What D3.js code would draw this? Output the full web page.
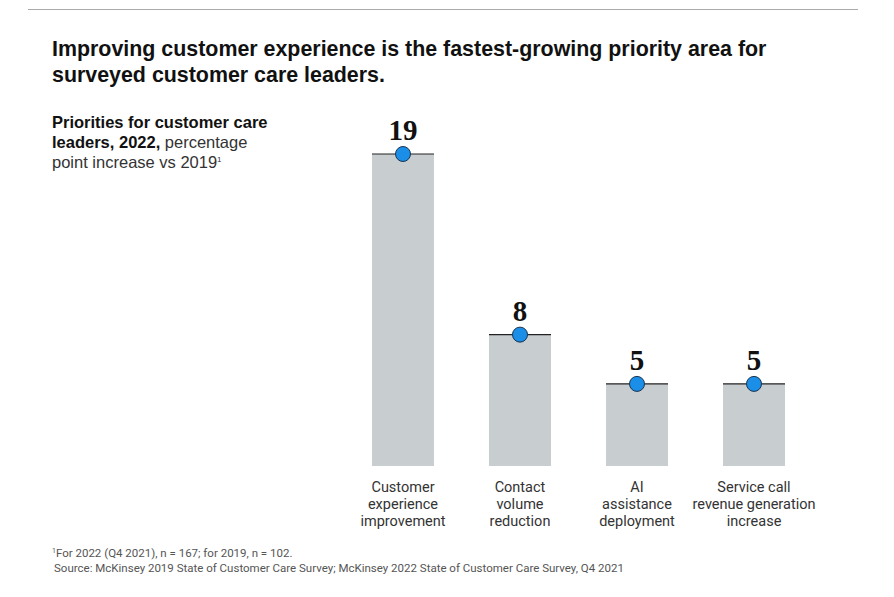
<!DOCTYPE html>
<html><head><meta charset="utf-8">
<script src="https://cdn.jsdelivr.net/npm/d3@7"></script>
<style>body{margin:0;background:#fff}</style>
</head><body>
<script>
const categories = [["Customer","experience","improvement"],["Contact","volume","reduction"],["AI","assistance","deployment"],["Service call","revenue generation","increase"]];
const values = [19, 8, 5, 5];
const ids = ["cx","cv","ai","sc"];

const W = 894, H = 597;
const svg = d3.select("body").append("svg").attr("width", W).attr("height", H);
const sans = "Roboto, 'Liberation Sans', Arial, sans-serif";

svg.append("line").attr("x1", 28).attr("x2", 858).attr("y1", 9.5).attr("y2", 9.5).attr("stroke", "#aaa").attr("stroke-width", 1);

const title = svg.append("text").attr("font-family", "'Liberation Sans', Arial, sans-serif")
  .attr("font-weight", "bold").attr("font-size", 21.4).attr("fill", "#111");
title.append("tspan").attr("x", 52).attr("y", 56).text("Improving customer experience is the fastest-growing priority area for");
title.append("tspan").attr("x", 52).attr("y", 82).text("surveyed customer care leaders.");

const sub = svg.append("text").attr("font-family", "'Liberation Sans', Arial, sans-serif").attr("font-size", 16.5).attr("fill", "#111");
sub.append("tspan").attr("x", 52).attr("y", 128).attr("font-weight", "bold").text("Priorities for customer care");
const l2 = sub.append("tspan").attr("x", 52).attr("y", 148);
l2.append("tspan").attr("font-weight", "bold").text("leaders, 2022,");
l2.append("tspan").attr("fill", "#333").text(" percentage");
sub.append("tspan").attr("x", 52).attr("y", 168).attr("fill", "#333").text("point increase vs 2019");
sub.append("tspan").attr("font-size", 8).attr("dy", -6).attr("fill", "#333").text("1");

const x = d3.scaleBand().domain(ids).range([344.5, 812.5]).paddingInner(0.47).paddingOuter(0.235);
const y = d3.scaleLinear().domain([0, 19]).range([466, 154]);

const g = svg.append("g");
ids.forEach((id, i) => {
  const x0 = x(id), bw = x.bandwidth(), cx = x0 + bw / 2;
  g.append("rect").attr("x", x0).attr("y", y(values[i])).attr("width", bw).attr("height", y(0) - y(values[i])).attr("fill", "#c8cdd0");
  g.append("line").attr("x1", x0).attr("x2", x0 + bw).attr("y1", y(values[i])).attr("y2", y(values[i])).attr("stroke", "#222").attr("stroke-width", 1.2);
  g.append("circle").attr("cx", cx).attr("cy", y(values[i])).attr("r", 7.5).attr("fill", "#1b8ee8").attr("stroke", "#1a3550").attr("stroke-width", 1);
  g.append("text").attr("x", cx).attr("y", y(values[i]) - 14).attr("text-anchor", "middle")
    .attr("font-family", "'Liberation Serif', Georgia, serif").attr("font-weight", "bold").attr("font-size", 29).attr("fill", "#111").text(values[i]);
  const t = g.append("text").attr("text-anchor", "middle").attr("font-family", sans).attr("font-size", 14.5).attr("fill", "#333");
  categories[i].forEach((ln, j) => t.append("tspan").attr("x", cx).attr("y", 492 + j * 17).text(ln));
});

const foot = svg.append("text").attr("font-family", sans).attr("font-size", 11.5).attr("fill", "#555");
const f1 = foot.append("tspan").attr("x", 52).attr("y", 557);
f1.append("tspan").attr("font-size", 7).attr("dy", -4).text("1");
f1.append("tspan").attr("dy", 4).text("For 2022 (Q4 2021), n = 167; for 2019, n = 102.");
foot.append("tspan").attr("x", 54).attr("y", 572).text("Source: McKinsey 2019 State of Customer Care Survey; McKinsey 2022 State of Customer Care Survey, Q4 2021");
</script>
</body></html>
